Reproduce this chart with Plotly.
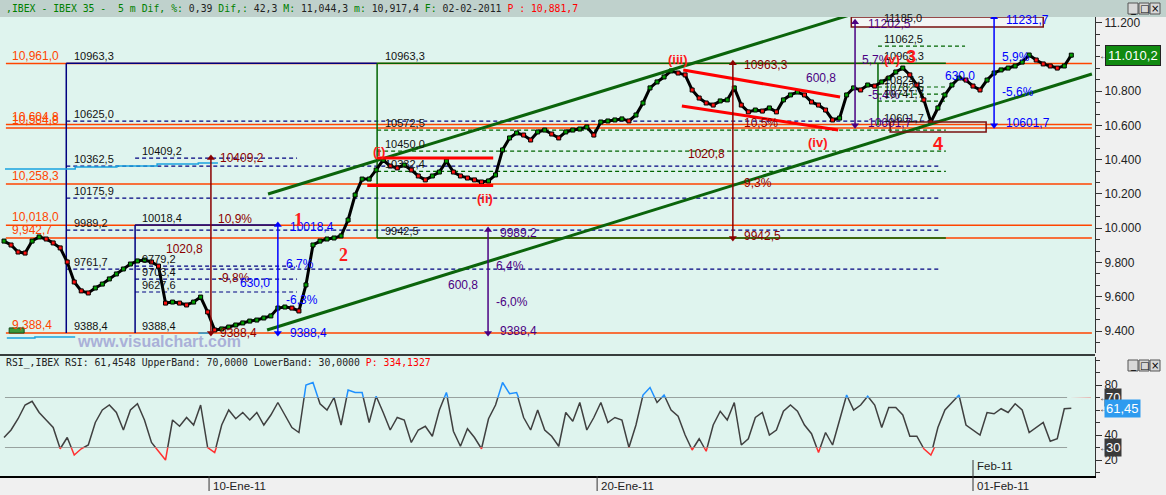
import numpy as np
import plotly.graph_objects as go

# ---------------- data ----------------
# x unit = 5-minute bar, 0 = open of 10-Ene-11; one sample every 15 bars
BAR_START = -438
BAR_STEP = 15

price = [9925, 9902, 9861, 9855, 9925, 9949, 9937, 9914, 9885, 9803,
         9686, 9634, 9622, 9651, 9674, 9704, 9733, 9762, 9791, 9809,
         9814, 9803, 9779, 9563, 9569, 9563, 9552, 9569, 9598, 9511,
         9406, 9412, 9423, 9435, 9447, 9458, 9464, 9476, 9488, 9534,
         9540, 9534, 9517, 9669, 9902, 9925, 9937, 9943, 9955, 10048,
         10194, 10287, 10287, 10340, 10398, 10363, 10352, 10369, 10340, 10305,
         10282, 10305, 10328, 10392, 10328, 10305, 10293, 10282, 10270, 10276,
         10311, 10457, 10527, 10556, 10544, 10515, 10562, 10573, 10550, 10527,
         10562, 10573, 10579, 10591, 10544, 10620, 10626, 10632, 10638, 10626,
         10661, 10731, 10819, 10854, 10883, 10918, 10906, 10895, 10807, 10760,
         10731, 10719, 10743, 10749, 10819, 10719, 10679, 10690, 10684, 10702,
         10679, 10749, 10778, 10795, 10778, 10737, 10719, 10690, 10632, 10643,
         10778, 10819, 10807, 10836, 10830, 10854, 10877, 10912, 10935, 10895,
         10836, 10749, 10620, 10702, 10778, 10836, 10877, 10865, 10830, 10807,
         10865, 10906, 10924, 10935, 10947, 10970, 11011, 10982, 10959, 10947,
         10935, 10947, 11010.2]

rsi = [38, 44, 53, 64, 67, 58, 52, 46, 29, 38,
       24, 29, 32, 50, 60, 64, 58, 44, 60, 65,
       52, 34, 27, 20, 52, 47, 54, 48, 64, 30,
       26, 48, 60, 53, 58, 52, 58, 48, 56, 66,
       56, 46, 42, 80, 82, 65, 60, 70, 48, 76,
       74, 74, 50, 71, 58, 44, 54, 52, 34, 44,
       47, 39, 60, 74, 43, 31, 45, 38, 29, 53,
       64, 82, 73, 74, 54, 44, 60, 44, 39, 31,
       58, 51, 66, 44, 54, 66, 50, 54, 52, 30,
       48, 72, 78, 66, 72, 60, 55, 40, 28, 37,
       27, 48, 59, 52, 66, 32, 37, 54, 58, 40,
       44, 59, 64, 59, 48, 41, 26, 42, 32, 52,
       72, 60, 64, 71, 64, 46, 62, 62, 56, 39,
       39, 29, 24, 46, 60, 66, 72, 48, 44, 40,
       58, 57, 61, 58, 65, 60, 42, 46, 50, 35,
       37, 61, 61.45]

date_tick_bars = [-508, 0, 829, 1632]
date_tick_labels = ["03-Ene-11", "10-Ene-11", "20-Ene-11", "01-Feb-11"]

price_ticks = [9400, 9600, 9800, 10000, 10200, 10400, 10600, 10800, 11000, 11200]
price_tick_text = ["9.400", "9.600", "9.800", "10.000", "10.200", "10.400",
                   "10.600", "10.800", "", "11.200"]

orange_levels = [10961.0, 10604.8, 10584.8, 10258.3, 10018.0, 9942.7, 9388.4]
orange_text = ["10,961,0", "10,604,8", "10,584,8", "10,258,3", "10,018,0", "9,942,7", "9,388,4"]

fib1_levels = [10963.3, 10625.0, 10362.5, 10175.9, 9989.2, 9761.7, 9388.4]
fib2_levels = [10409.2, 10018.4, 9779.2, 9703.4, 9627.6, 9388.4]
fib3_levels = [10963.3, 10572.5, 10450.0, 10332.4, 9942.5]
fib4_levels = [11185.0, 11062.5, 10963.3, 10824.3, 10782.5, 10741.7, 10601.7]

cyan_x = [-436, -286, -286, -197, -197, -111, -111, -23, -23, 19]
cyan_y = [10346, 10346, 10357, 10357, 10363, 10363, 10375, 10375, 10381, 10381]
cyan2_x = [-432, -372, -372, -286, None, -23, 9]
cyan2_y = [9359, 9359, 9365, 9365, None, 9388, 9388]

chan_up_x, chan_up_y = [126, 1369], [10200, 11245]
chan_lo_x, chan_lo_y = [124, 1886], [9406, 10900]
red_lines = [([359, 607], [10410, 10410]), ([338, 607], [10250, 10250]),
             ([1013, 1348], [10924, 10766]), ([1010, 1344], [10714, 10573])]
rsi_res_x, rsi_res_y = [205, 1884], [86.4, 71.2]

# ---------------- style ----------------
FONT = "Liberation Sans"
MONO = "DejaVu Sans Mono"
MINT = "#dff4ee"
NAVY = "#000080"
DGREEN = "#006400"
ORANGE = "#ff4500"
DARKRED = "#8b0000"
BLUE = "#0000ff"
PURPLE = "#4b0082"
RED = "#ff0000"
TXT = "#111111"

W_PLOT, H_PLOT = 1095.0, 476.0
XR = [-446.6, 1892.6]


def px_x(v):
    return v / W_PLOT


def px_y(v):
    return (H_PLOT - v) / H_PLOT


def fmt(v):
    return ("%.1f" % v).replace(".", ",")


fig = go.Figure()
ann = []
shapes = []


def line(x, y, color, width=1.5, dash=None, yaxis="y"):
    fig.add_trace(go.Scatter(x=x, y=y, mode="lines", yaxis=yaxis,
                             line=dict(color=color, width=width, dash=dash),
                             hoverinfo="skip", showlegend=False))


def txt(x, y, s, color=TXT, size=11, xanchor="left", yanchor="middle", family=FONT,
        xref="x", yref="y", yshift=0, xshift=0, **kw):
    ann.append(dict(x=x, y=y, xref=xref, yref=yref, text=s, showarrow=False,
                    xanchor=xanchor, yanchor=yanchor, yshift=yshift, xshift=xshift,
                    font=dict(family=family, size=size, color=color), **kw))


def varrow(x, lo, hi, color):
    fig.add_trace(go.Scatter(x=[x, x], y=[lo, hi], mode="lines+markers",
                             line=dict(color=color, width=1.5),
                             marker=dict(symbol=["triangle-down", "triangle-up"], size=7, color=color),
                             hoverinfo="skip", showlegend=False))


DASH = "4px,3px"

# orange support/resistance lines
for lv, t in zip(orange_levels, orange_text):
    line([-434, 1886], [lv, lv], ORANGE, 1.5)
    txt(-425, lv, t, ORANGE, 12, yanchor="bottom", yshift=-1)

# Fibonacci box 1 (navy)
line([-305, -305], [fib1_levels[-1], fib1_levels[0]], NAVY, 1.5)
line([-305, 359], [fib1_levels[0], fib1_levels[0]], NAVY, 1.5)
for lv in fib1_levels[1:-1]:
    line([-305, 1558], [lv, lv], NAVY, 1.2, DASH)
for lv in fib1_levels:
    txt(-293, lv, fmt(lv), yanchor="bottom", yshift=-1)

# Fibonacci box 2 (navy)
line([-158, -158], [fib2_levels[-1], fib2_levels[1]], NAVY, 1.5)
line([-158, 147], [fib2_levels[1], fib2_levels[1]], NAVY, 1.5)
for lv in [fib2_levels[0]] + fib2_levels[2:5]:
    line([-158, 188], [lv, lv], NAVY, 1.2, DASH)
for lv in fib2_levels:
    txt(-147, lv, fmt(lv), yanchor="bottom", yshift=-1)

# Fibonacci box 3 (green)
line([359, 359], [fib3_levels[-1], fib3_levels[0]], DGREEN, 1.5)
line([359, 1574], [fib3_levels[0], fib3_levels[0]], DGREEN, 1.5)
line([359, 1574], [fib3_levels[-1], fib3_levels[-1]], DGREEN, 1.5)
for lv in fib3_levels[1:-1]:
    line([359, 1574], [lv, lv], DGREEN, 1.2, DASH)
for lv in fib3_levels:
    txt(372, lv, fmt(lv), yanchor="bottom", yshift=-1)

# Fibonacci box 4 (green)
line([1429, 1429], [fib4_levels[-1], fib4_levels[2]], DGREEN, 1.5)
line([1429, 1615], [fib4_levels[1], fib4_levels[1]], DGREEN, 1.2, DASH)
for lv in fib4_levels[3:6]:
    line([1429, 1572], [lv, lv], DGREEN, 1.2, DASH)

# cyan lines
line(cyan_x, cyan_y, "#1aa3e0", 1.5)
line(cyan2_x, cyan2_y, "#1aa3e0", 1.5)

# price series
p = np.array(price, float)
bars = BAR_START + BAR_STEP * np.arange(len(p))
up = np.r_[True, p[1:] >= p[:-1]]
mcol = np.where(up, "#00a000", "#ff1010")
fig.add_trace(go.Scatter(x=bars, y=p, mode="lines+markers",
                         line=dict(color="black", width=3),
                         marker=dict(symbol="square", size=4, color=mcol,
                                     line=dict(color="black", width=1)),
                         hoverinfo="skip", showlegend=False))

# trend channel
line(chan_up_x, chan_up_y, "#0b640b", 3)
line(chan_lo_x, chan_lo_y, "#0b640b", 3)
for rx, ry in red_lines:
    line(rx, ry, RED, 3)

# measuring arrows
varrow(4, 9388.4, 10409.2, DARKRED)
varrow(1119, 9942.5, 10963.3, DARKRED)
varrow(147, 9388.4, 10018.4, BLUE)
varrow(1677, 10601.7, 11231.7, BLUE)
varrow(596, 9388.4, 9989.2, PURPLE)
varrow(1380, 10601.7, 11202.5, PURPLE)

for x, y, s, c, xa in [
    (19, 10409.2, "10409,2", DARKRED, "left"), (15, 10054, "10,9%", DARKRED, "left"),
    (-9, 9879, "1020,8", DARKRED, "right"), (15, 9709, "-9,8%", DARKRED, "left"),
    (19, 9390, "9388,4", DARKRED, "left"),
    (1139, 10950, "10963,3", DARKRED, "left"), (1139, 10614, "10,5%", DARKRED, "left"),
    (1107, 10433, "1020,8", DARKRED, "right"), (1139, 10264, "9,3%", DARKRED, "left"),
    (1139, 9955, "9942,5", DARKRED, "left"),
    (169, 10010, "10018,4", BLUE, "left"), (160, 9791, "6,7%", BLUE, "left"),
    (135, 9680, "630,0", BLUE, "right"), (160, 9581, "-6,3%", BLUE, "left"),
    (169, 9390, "9388,4", BLUE, "left"),
    (1698, 11216, "11231,7", BLUE, "left"), (1690, 10999, "5,9%", BLUE, "left"),
    (1641, 10889, "630,0", BLUE, "right"), (1690, 10795, "-5,6%", BLUE, "left"),
    (1698, 10614, "10601,7", BLUE, "left"),
    (617, 9972, "9989,2", PURPLE, "left"), (609, 9779, "6,4%", PURPLE, "left"),
    (579, 9669, "600,8", PURPLE, "right"), (609, 9569, "-6,0%", PURPLE, "left"),
    (617, 9400, "9388,4", PURPLE, "left"),
    (1404, 11192, "11202,5", PURPLE, "left"), (1391, 10982, "5,7%", PURPLE, "left"),
    (1344, 10877, "600,8", PURPLE, "right"), (1404, 10778, "-5,4%", PURPLE, "left"),
    (1404, 10614, "10601,7", PURPLE, "left"),
]:
    txt(x, y, s, c, 12, xanchor=xa)

shapes.append(dict(type="rect", xref="x", yref="y", x0=1372, x1=1782, y0=11175, y1=11233,
                   line=dict(color="#7a1010", width=1.5), fillcolor="#f3f6f5", layer="below"))
shapes.append(dict(type="rect", xref="x", yref="y", x0=1455, x1=1660, y0=10562, y1=10620,
                   line=dict(color="#7a1010", width=1.5), fillcolor="rgba(0,0,0,0)"))
for lv in fib4_levels:
    txt(1438, lv, fmt(lv), yanchor="bottom", yshift=-1)

# wave labels
for x, y, s, size, fam in [
    (192, 10048, "<b>1</b>", 18, "Liberation Serif"), (288, 9844, "<b>2</b>", 18, "Liberation Serif"),
    (363, 10445, "<b>(i)</b>", 13, FONT), (590, 10176, "<b>(ii)</b>", 13, FONT),
    (1002, 10982, "<b>(iii)</b>", 13, FONT), (1301, 10498, "<b>(iv)</b>", 13, FONT),
    (1459, 10982, "<b>(v)</b>", 13, FONT), (1500, 11000, "<b>3</b>", 18, FONT),
    (1557, 10492, "<b>4</b>", 18, FONT),
]:
    txt(x, y, s, "#ff1a1a", size, xanchor="center", family=fam)

# small marker box bottom-left and watermark
shapes.append(dict(type="rect", xref="x", yref="y", x0=-427, x1=-395, y0=9388, y1=9418,
                   line=dict(color="#1a4a1a", width=1), fillcolor="#3a9a3a"))
txt(-286, 9336, "<b>www.visualchart.com</b>", "#aab0d8", 16)

# ---------------- RSI ----------------
r = np.array(rsi, float)
line([-436, 1833], [70, 70], "#505050", 1.2, yaxis="y2")
line([-436, 1833], [30, 30], "#505050", 1.2, yaxis="y2")
line(bars, r, "#404040", 1.5, yaxis="y2")
line(bars, r, "#1e90ff", 1.5, yaxis="y3")
line(bars, r, "#ff3030", 1.5, yaxis="y4")
line(rsi_res_x, rsi_res_y, RED, 3, yaxis="y2")

# ---------------- frame / decorations ----------------
shapes.append(dict(type="rect", xref="paper", yref="paper", x0=0, x1=1, y0=0.25, y1=0.2584,
                   line=dict(width=0), fillcolor=MINT, layer="below"))
shapes.append(dict(type="rect", xref="paper", yref="paper", x0=0, x1=1166 / W_PLOT,
                   y0=px_y(17), y1=1.0, line=dict(width=0), fillcolor="#bfd1cc", layer="below"))
shapes.append(dict(type="line", xref="paper", yref="paper", x0=0, x1=1, y0=px_y(355), y1=px_y(355),
                   line=dict(color="black", width=1.5)))

# window buttons
for ytop in (3, 360):
    for i, g in enumerate(["_", "□", "×"]):
        x0 = 1128 + 11 * i
        shapes.append(dict(type="rect", xref="paper", yref="paper", x0=px_x(x0), x1=px_x(x0 + 10),
                           y0=px_y(ytop + 11), y1=px_y(ytop), line=dict(color="#555", width=1),
                           fillcolor="#d8d8d8"))
        ann.append(dict(x=px_x(x0 + 5), y=px_y(ytop + 5.5), xref="paper", yref="paper", text=g,
                        showarrow=False, xanchor="center", yanchor="middle",
                        font=dict(family="DejaVu Sans", size=10, color="black")))

# title bar
G, D, R = "#008000", "#222222", "#ff0000"
nb = "\u00a0"


def sp(s, c):
    return "<span style='color:%s'>%s</span>" % (c, s.replace(" ", nb))


title = (sp(",IBEX - IBEX 35 -  5 m Dif, %:", G) + sp(" 0,39 ", D) + sp("Dif,:", G) +
         sp(" 42,3 ", D) + sp("M:", G) + sp(" 11,044,3 ", D) + sp("m:", G) +
         sp(" 10,917,4 ", D) + sp("F:", G) + sp(" 02-02-2011 ", D) + sp("P : 10,881,7", R))
txt(px_x(4), px_y(8), title, D, 9.8, family=MONO, xref="paper", yref="paper")
rsi_head = (sp("RSI_,IBEX RSI: 61,4548 UpperBand: 70,0000 LowerBand: 30,0000 ", D) +
            sp("P: 334,1327", R))
txt(px_x(4), px_y(363), rsi_head, D, 9.8, family=MONO, xref="paper", yref="paper")

# date axis labels
for b, lab in zip(date_tick_bars, date_tick_labels):
    shapes.append(dict(type="line", xref="x", yref="paper", x0=b, x1=b, y0=0, y1=px_y(491),
                       line=dict(color="#333", width=1)))
    txt(b, px_y(486), lab, "#222", 11.5, xref="x", yref="paper", xshift=2)
shapes.append(dict(type="line", xref="x", yref="paper", x0=1632, x1=1632, y0=px_y(460), y1=0,
                   line=dict(color="#333", width=1)))
txt(1632, px_y(466), "Feb-11", "#222", 11.5, xref="x", yref="paper", xshift=2)

# value badges on the right axes
txt(px_x(1097), 11010.2, "←", "#444", 10, xref="paper")
txt(px_x(1105), 11010.2, "11.010,2", "white", 13, xref="paper",
    bgcolor="#108a10", bordercolor="#222", borderwidth=1, borderpad=2)
for v, t, bg in [(70, "70", "#3a3a3a"), (61.45, "61,45", "#2e9bef"), (30, "30", "#3a3a3a")]:
    txt(px_x(1097), v, "←", "#444", 10, xref="paper", yref="y2")
    txt(px_x(1104), v, t, "white", 13, xref="paper", yref="y2", bgcolor=bg, borderpad=1)

# ---------------- layout ----------------
minor_p = [9400 + 200.0 / 3 * k for k in range(-1, 28) if 9272 < 9400 + 200.0 / 3 * k < 11233]
axis_common = dict(side="right", showgrid=False, zeroline=False, showline=True,
                   linecolor="#333", linewidth=1, ticks="outside", ticklen=6, tickcolor="#333",
                   tickfont=dict(family=FONT, size=12, color="#222"), fixedrange=True)
fig.update_layout(
    width=1166, height=495, margin=dict(l=0, r=71, t=0, b=19),
    paper_bgcolor="#f0f0f0", plot_bgcolor=MINT, showlegend=False,
    xaxis=dict(range=XR, anchor="y2", showgrid=False, zeroline=False, showticklabels=False,
               showline=True, linecolor="black", linewidth=1.5, ticks="", fixedrange=True),
    yaxis=dict(domain=[px_y(353), px_y(17)], range=[9271.6, 11233.0], anchor="x",
               tickmode="array", tickvals=price_ticks, ticktext=price_tick_text,
               minor=dict(tickmode="array", tickvals=minor_p, ticks="outside", ticklen=4,
                          tickcolor="#333"), **axis_common),
    yaxis2=dict(domain=[0, 0.25], range=[7.2, 102.4], anchor="x",
                tickmode="array", tickvals=[20, 40, 80], ticktext=["20", "40", "80"],
                minor=dict(tickmode="array", tickvals=[10, 30, 50, 60, 70, 90, 100],
                           ticks="outside", ticklen=4, tickcolor="#333"), **axis_common),
    yaxis3=dict(domain=[0.25 * (70 - 7.2) / 95.2, 0.25], range=[70, 102.4], anchor="x",
                visible=False, fixedrange=True),
    yaxis4=dict(domain=[0, 0.25 * (30 - 7.2) / 95.2], range=[7.2, 30], anchor="x",
                visible=False, fixedrange=True),
    shapes=shapes, annotations=ann,
)

fig.write_html("out.html", config={"displayModeBar": False},
               post_script="document.body.style.margin='0';document.body.style.overflow='hidden';")
